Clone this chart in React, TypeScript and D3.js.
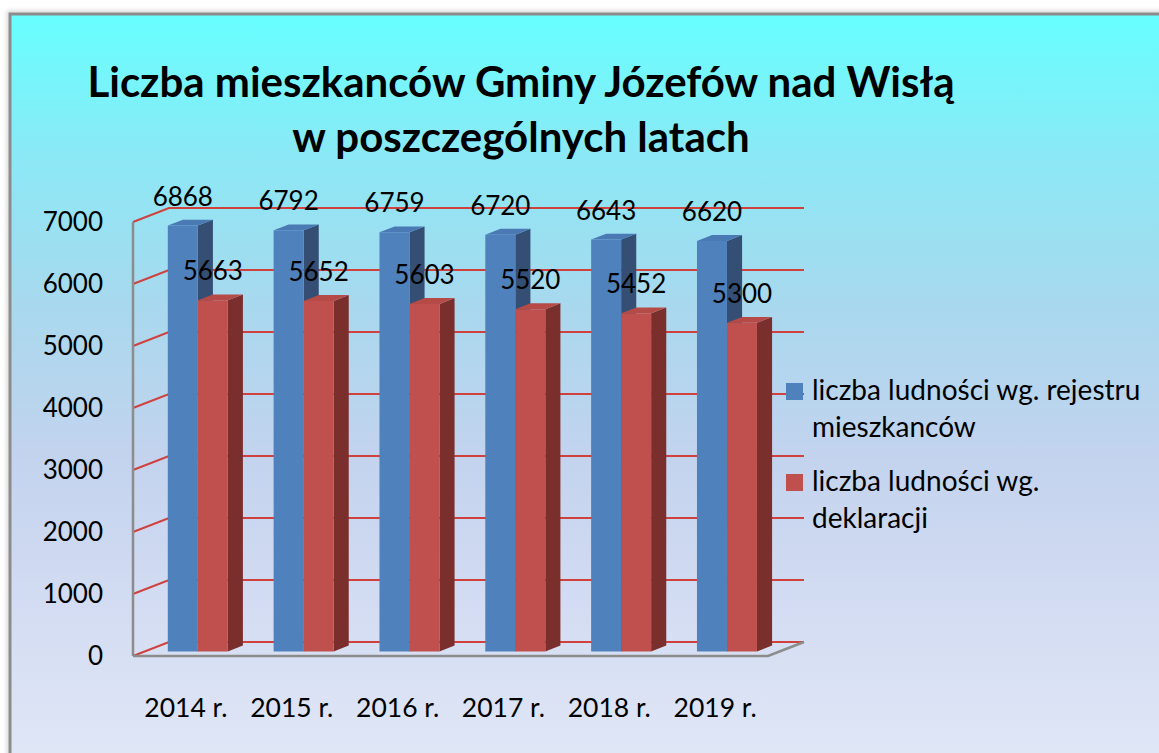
import React from "react";
import * as d3 from "d3";

const categories = ["2014 r.", "2015 r.", "2016 r.", "2017 r.", "2018 r.", "2019 r."];
const seriesNames = [
  "liczba ludności wg. rejestru mieszkanców",
  "liczba ludności wg. deklaracji",
];
const registerValues = [6868, 6792, 6759, 6720, 6643, 6620];
const declarationValues = [5663, 5652, 5603, 5520, 5452, 5300];
const yTicks = [0, 1000, 2000, 3000, 4000, 5000, 6000, 7000];
const titleLines = ["Liczba mieszkanców Gminy Józefów nad Wisłą", "w poszczególnych latach"];
const legendLines = [
  ["liczba ludności wg. rejestru", "mieszkanców"],
  ["liczba ludności wg.", "deklaracji"],
];

const W = 1159;
const H = 753;
const FONT = "Lato, 'Open Sans', sans-serif";

// 3D projection
const DX = 36;
const DY = -14;
const Z_FRONT = 0.33;
const Z_BACK = 0.75;

const colors = [
  { front: "#4F81BD", side: "#344E74", top: "#4A79B3" },
  { front: "#C0504D", side: "#7A2F2D", top: "#B54A47" },
];

export default function App() {
  const x = d3.scaleBand<string>().domain(categories).range([133, 768]).padding(0);
  const y = d3.scaleLinear().domain([0, 7000]).range([656, 222]);
  const inner = d3
    .scaleBand<number>()
    .domain([0, 1])
    .range([0, x.bandwidth()])
    .paddingInner(0)
    .paddingOuter(0.764);

  const px = (xf: number, z: number) => xf + DX * z;
  const py = (v: number, z: number) => y(v) + DY * z;

  const series = [registerValues, declarationValues];

  const x0 = x.range()[0];
  const x1 = x.range()[1];

  const pts = (arr: [number, number][]) => arr.map((p) => p.join(",")).join(" ");

  return (
    <svg
      width={W}
      height={H}
      style={{ position: "absolute", left: 0, top: 0, display: "block" }}
      fontFamily={FONT}
    >
      <defs>
        <linearGradient id="bg" gradientUnits="userSpaceOnUse" x1="0" y1="13" x2="0" y2="753">
          <stop offset="0" stopColor="#66FFFF" />
          <stop offset="0.2" stopColor="#8CE8F5" />
          <stop offset="0.4" stopColor="#A9D8EE" />
          <stop offset="0.6" stopColor="#C3D3EE" />
          <stop offset="0.8" stopColor="#D3DCF2" />
          <stop offset="1" stopColor="#DFE6F6" />
        </linearGradient>
        <filter id="sh" x="-5%" y="-5%" width="110%" height="110%">
          <feDropShadow dx="-2" dy="-2" stdDeviation="2" floodColor="#000" floodOpacity="0.15" />
        </filter>
      </defs>
      <rect x={0} y={0} width={W} height={H} fill="#fff" />
      <rect x={10} y={14} width={W + 20} height={H + 20} fill="url(#bg)" stroke="#8C8C8C" strokeWidth={3} filter="url(#sh)" />

      {/* title */}
      {titleLines.map((t, i) => (
        <text
          key={t}
          x={521}
          y={i === 0 ? 97 : 152}
          textAnchor="middle"
          fontWeight="bold"
          fontSize={42}
          fill="#000"
        >
          {t}
        </text>
      ))}

      {/* gridlines: back wall + left wall */}
      {yTicks.map((v) => (
        <g key={v}>
          <polyline
            points={pts([
              [x0, y(v)],
              [px(x0, 1), py(v, 1)],
              [px(x1, 1), py(v, 1)],
            ])}
            fill="none"
            stroke="#D0413D"
            strokeWidth={2}
          />
        </g>
      ))}
      {/* left wall vertical edge */}
      <line x1={x0} x2={x0} y1={y(7000)} y2={y(0)} stroke="#8C8C8C" strokeWidth={2.5} />
      {/* floor front and right edges */}
      <polyline
        points={pts([
          [x0, y(0)],
          [x1, y(0)],
          [px(x1, 1), py(0, 1)],
        ])}
        fill="none"
        stroke="#8C8C8C"
        strokeWidth={2.5}
      />

      {/* y tick labels */}
      {yTicks.map((v) => (
        <text key={"t" + v} x={103} y={y(v)} dy="0.36em" textAnchor="end" fontSize={26} fill="#000">
          {v}
        </text>
      ))}

      {/* bars */}
      {categories.map((c, i) => (
        <g key={c}>
          {series.map((vals, s) => {
            const v = vals[i];
            const xl = (x(c) as number) + (inner(s) as number);
            const xr = xl + inner.bandwidth();
            const col = colors[s];
            const front: [number, number][] = [
              [px(xl, Z_FRONT), py(0, Z_FRONT)],
              [px(xl, Z_FRONT), py(v, Z_FRONT)],
              [px(xr, Z_FRONT), py(v, Z_FRONT)],
              [px(xr, Z_FRONT), py(0, Z_FRONT)],
            ];
            const side: [number, number][] = [
              [px(xr, Z_FRONT), py(0, Z_FRONT)],
              [px(xr, Z_FRONT), py(v, Z_FRONT)],
              [px(xr, Z_BACK), py(v, Z_BACK)],
              [px(xr, Z_BACK), py(0, Z_BACK)],
            ];
            const top: [number, number][] = [
              [px(xl, Z_FRONT), py(v, Z_FRONT)],
              [px(xl, Z_BACK), py(v, Z_BACK)],
              [px(xr, Z_BACK), py(v, Z_BACK)],
              [px(xr, Z_FRONT), py(v, Z_FRONT)],
            ];
            return (
              <g key={s}>
                <polygon points={pts(side)} fill={col.side} />
                <polygon points={pts(top)} fill={col.top} />
                <polygon points={pts(front)} fill={col.front} />
              </g>
            );
          })}
        </g>
      ))}

      {/* data labels */}
      {categories.map((c, i) =>
        series.map((vals, s) => {
          const v = vals[i];
          const xl = (x(c) as number) + (inner(s) as number);
          const cx = px(xl + inner.bandwidth() / 2, Z_FRONT);
          return (
            <text
              key={c + s}
              x={cx}
              y={py(v, Z_FRONT) - 20}
              textAnchor="middle"
              fontSize={26}
              fill="#000"
            >
              {v}
            </text>
          );
        })
      )}

      {/* category labels */}
      {categories.map((c) => (
        <text
          key={"c" + c}
          x={(x(c) as number) + x.bandwidth() / 2}
          y={717}
          textAnchor="middle"
          fontSize={26.5}
          fill="#000"
        >
          {c}
        </text>
      ))}

      {/* legend */}
      {seriesNames.map((n, s) => (
        <g key={n} transform={`translate(786, ${s === 0 ? 383 : 474})`}>
          <rect x={0} y={0} width={17} height={17} fill={colors[s].front} />
          {legendLines[s].map((l, k) => (
            <text key={l} x={26} y={17 + k * 37} fontSize={28} fill="#000">
              {l}
            </text>
          ))}
        </g>
      ))}
    </svg>
  );
}
